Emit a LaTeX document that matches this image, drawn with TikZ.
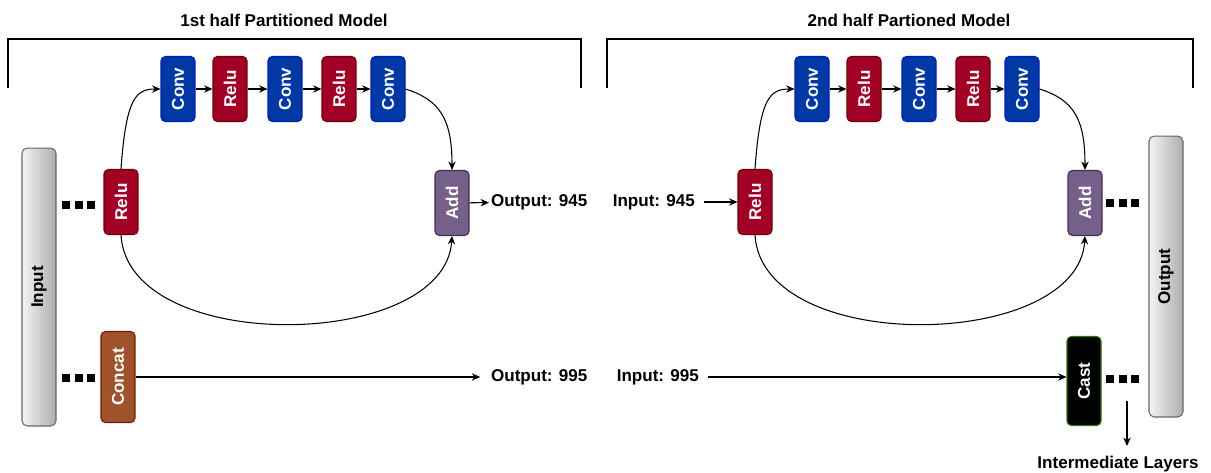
\documentclass[tikz,border=0pt]{standalone}
\usepackage{fontspec}
\setmainfont{Liberation Sans}
\usepackage{graphicx}
\usetikzlibrary{arrows.meta}
\definecolor{convfill}{HTML}{0039A6}
\definecolor{convdraw}{HTML}{001DBC}
\definecolor{relufill}{HTML}{A20025}
\definecolor{reludraw}{HTML}{6F0000}
\definecolor{addfill}{HTML}{76608A}
\definecolor{adddraw}{HTML}{432D57}
\definecolor{concatfill}{HTML}{A0522D}
\definecolor{concatdraw}{HTML}{6D1F00}
\definecolor{castdraw}{HTML}{2D7600}
\definecolor{barleft}{HTML}{F4F4F4}
\definecolor{barright}{HTML}{ADADAD}
\definecolor{bardraw}{HTML}{666666}
\newcommand\lblfont{\fontsize{9.7}{11}\selectfont\bfseries}
\begin{document}
\begin{tikzpicture}[x=0.02cm,y=-0.02cm,
  blk/.style={rounded corners=2.5pt,minimum width=0.68cm,minimum height=1.3cm,
    inner sep=0pt,text=white,font=\lblfont,line width=0.6pt},
  conv/.style={blk,fill=convfill,draw=convdraw},
  relu/.style={blk,fill=relufill,draw=reludraw},
  addb/.style={blk,fill=addfill,draw=adddraw},
  concatb/.style={blk,minimum height=1.82cm,fill=concatfill,draw=concatdraw},
  castb/.style={blk,minimum height=1.78cm,fill=black,draw=castdraw},
  bar/.style={rounded corners=3pt,minimum width=0.68cm,inner sep=0pt,
    left color=barleft,right color=barright,draw=bardraw,line width=0.6pt,font=\lblfont},
  conn/.style={-{Stealth[length=4.8pt,width=4.2pt]},line width=0.6pt},
  lab/.style={font=\lblfont,inner sep=1pt},
  brk/.style={line width=1.1pt},
]
\useasboundingbox (0,0) rectangle (1211,473);

% titles and brackets
\node[lab] (t1) at (284,20) {1st half Partitioned Model};
\node[lab] (t2) at (909,20) {2nd half Partioned Model};
\draw[brk] (8,88) -- (8,39) -- (581,39) -- (581,88);
\draw[brk] (607,88) -- (607,39) -- (1193,39) -- (1193,88);

% ---------- first half ----------
\node[bar,minimum height=5.56cm] (inp) at (39,287) {\rotatebox{90}{Input}};
\node[relu] (reluA) at (121,202) {\rotatebox{90}{Relu}};
\node[concatb] (concat) at (118,377) {\rotatebox{90}{Concat}};
\node[conv] (c1) at (178,89) {\rotatebox{90}{Conv}};
\node[relu] (r1) at (230,89) {\rotatebox{90}{Relu}};
\node[conv] (c2) at (285,89) {\rotatebox{90}{Conv}};
\node[relu] (r2) at (339,89) {\rotatebox{90}{Relu}};
\node[conv] (c3) at (388,89) {\rotatebox{90}{Conv}};
\node[addb] (addA) at (452,203) {\rotatebox{90}{Add}};
\node[lab,anchor=west] (o945) at (489,202) {Output: 945};
\node[lab,anchor=west] (o995) at (489,377) {Output: 995};

\foreach \d in {0,12.5,25} {
  \fill (62+\d,201) rectangle +(8,8);
  \fill (62+\d,374) rectangle +(8,8);
}

\draw[conn] (c1) -- (r1);
\draw[conn] (r1) -- (c2);
\draw[conn] (c2) -- (r2);
\draw[conn] (r2) -- (c3);
\draw[conn] (reluA.north) .. controls +(5,-70) and +(-25,0) .. (c1.west);
\draw[conn] (c3.east) .. controls +(35,11) and +(0,-50) .. (addA.north);
\draw[conn] (reluA.south) .. controls +(7,121) and +(-7,115) .. (addA.south);
\draw[conn] (addA) -- (o945);
\draw[conn,shorten >=5pt] (concat) -- (o995);

% ---------- second half ----------
\node[lab,anchor=east] (i945) at (697,202) {Input: 945};
\node[lab,anchor=east] (i995) at (701,377) {Input: 995};
\node[relu] (reluB) at (755,202) {\rotatebox{90}{Relu}};
\node[conv] (d1) at (812,89) {\rotatebox{90}{Conv}};
\node[relu] (s1) at (864,89) {\rotatebox{90}{Relu}};
\node[conv] (d2) at (919,89) {\rotatebox{90}{Conv}};
\node[relu] (s2) at (973,89) {\rotatebox{90}{Relu}};
\node[conv] (d3) at (1022,89) {\rotatebox{90}{Conv}};
\node[addb] (addB) at (1085,203) {\rotatebox{90}{Add}};
\node[castb] (cast) at (1084,381) {\rotatebox{90}{Cast}};
\node[bar,minimum height=5.62cm] (outp) at (1166,276.5) {\rotatebox{90}{Output}};
\node[lab,anchor=base] (iml) at (1118,468) {Intermediate Layers};
\coordinate (ims) at (1127,401);
\coordinate (ime) at (1127,446);

\foreach \d in {0,12.5,25} {
  \fill (1106+\d,199) rectangle +(8,8);
  \fill (1106+\d,375) rectangle +(8,8);
}

\draw[conn,shorten <=4pt] (i945) -- (reluB);
\draw[conn] (d1) -- (s1);
\draw[conn] (s1) -- (d2);
\draw[conn] (d2) -- (s2);
\draw[conn] (s2) -- (d3);
\draw[conn] (reluB.north) .. controls +(5,-70) and +(-25,0) .. (d1.west);
\draw[conn] (d3.east) .. controls +(35,11) and +(0,-50) .. (addB.north);
\draw[conn] (reluB.south) .. controls +(7,121) and +(-7,115) .. (addB.south);
\draw[conn,shorten <=4pt] (i995.east) -- (i995.east -| cast.west);
\draw[conn] (ims) -- (ime);
\end{tikzpicture}
\end{document}
